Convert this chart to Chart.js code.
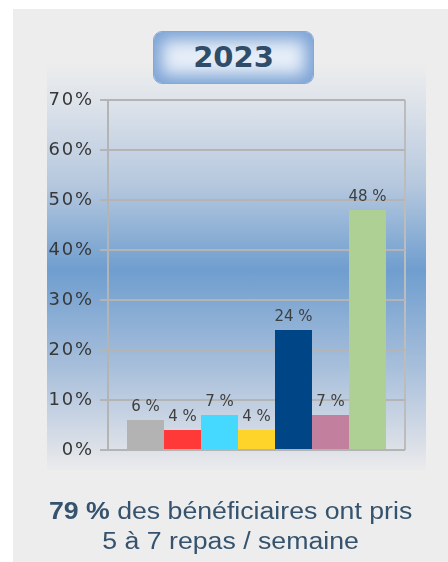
<!DOCTYPE html>
<html>
<head>
<meta charset="utf-8">
<script src="https://cdn.jsdelivr.net/npm/chart.js@4.4.0/dist/chart.umd.min.js"></script>
<style>
  body { margin: 0; width: 448px; height: 562px; overflow: hidden; position: relative; background: #fff; }
  #panel { position: absolute; left: 13px; top: 9px; right: 0; bottom: 0; background: #ededed; }
  #grad {
    position: absolute; left: 47px; top: 62px; width: 379px; height: 408px;
    background: linear-gradient(to bottom, #ededed 0%, #dfe4eb 9%, #b6c8de 30%, #6f9ecf 51%, #a8bfdb 75%, #d5dce6 92%, #ebebec 100%);
  }
  #chart { position: absolute; left: 0; top: 0; }
  #title {
    position: absolute; left: 153px; top: 31px; width: 161px; height: 53px; box-sizing: border-box;
    border-radius: 9px; border: 1px solid #86a8d4; background: #e6eef8;
    box-shadow: inset 0 0 16px 8px #7ca3d5;
    font: bold 29px "DejaVu Sans"; color: #2f4d68; text-align: center; line-height: 51px;
  }
  #caption {
    position: absolute; left: 13px; width: 435px; top: 496px; text-align: center;
    font: 23px "Liberation Sans"; line-height: 30px; color: #35536e;
    transform: scaleX(1.16); transform-origin: 217px 0;
  }
</style>
</head>
<body>
<div id="panel"></div>
<div id="grad"></div>
<canvas id="chart" width="448" height="562"></canvas>
<div id="title">2023</div>
<div id="caption"><b>79 %</b> des bénéficiaires ont pris<br>5 à 7 repas / semaine</div>
<script>
const year = '2023';
const categories = ['1 repas', '2 repas', '3 repas', '4 repas', '5 repas', '6 repas', '7 repas'];
const values = [6, 4, 7, 4, 24, 7, 48];
const barColors = ['#b3b3b3', '#ff3838', '#45d9ff', '#ffd42a', '#004586', '#c3809e', '#aed095'];
const yMax = 70;
const yStep = 10;

// labels above each bar
const valueLabels = {
  id: 'valueLabels',
  afterDatasetsDraw(chart) {
    const ctx = chart.ctx;
    ctx.save();
    ctx.font = '15px "DejaVu Sans"';
    ctx.fillStyle = '#3e3e3e';
    ctx.textAlign = 'center';
    ctx.textBaseline = 'alphabetic';
    chart.data.datasets.forEach((ds, i) => {
      const bar = chart.getDatasetMeta(i).data[0];
      ctx.fillText(ds.data[0] + ' %', bar.x, bar.y - 9);
    });
    ctx.restore();
  }
};

new Chart(document.getElementById('chart'), {
  type: 'bar',
  data: {
    labels: [year],
    datasets: categories.map((c, i) => ({
      label: c,
      data: [values[i]],
      backgroundColor: barColors[i],
      borderWidth: 0
    }))
  },
  options: {
    responsive: false,
    animation: false,
    categoryPercentage: 0.872,
    barPercentage: 1,
    layout: { padding: { left: 47, right: 43, top: 100, bottom: 112 } },
    plugins: { legend: { display: false }, tooltip: { enabled: false } },
    scales: {
      x: {
        ticks: { display: false },
        grid: { color: '#bcbcbc', lineWidth: 2, drawTicks: false },
        border: { display: false },
        afterFit: s => { s.height = 0; }
      },
      y: {
        min: 0,
        max: yMax,
        ticks: {
          stepSize: yStep,
          padding: 8,
          color: '#383838',
          font: { family: 'DejaVu Sans', size: 18 },
          callback: v => String(v).split('').join('\u200A') + '\u200A%'
        },
        grid: { color: '#b4b4b4', lineWidth: 2, tickLength: 8 },
        border: { color: '#b4b4b4', width: 2 },
        afterFit: s => { s.width = 61; }
      }
    }
  },
  plugins: [valueLabels]
});
</script>
</body>
</html>
